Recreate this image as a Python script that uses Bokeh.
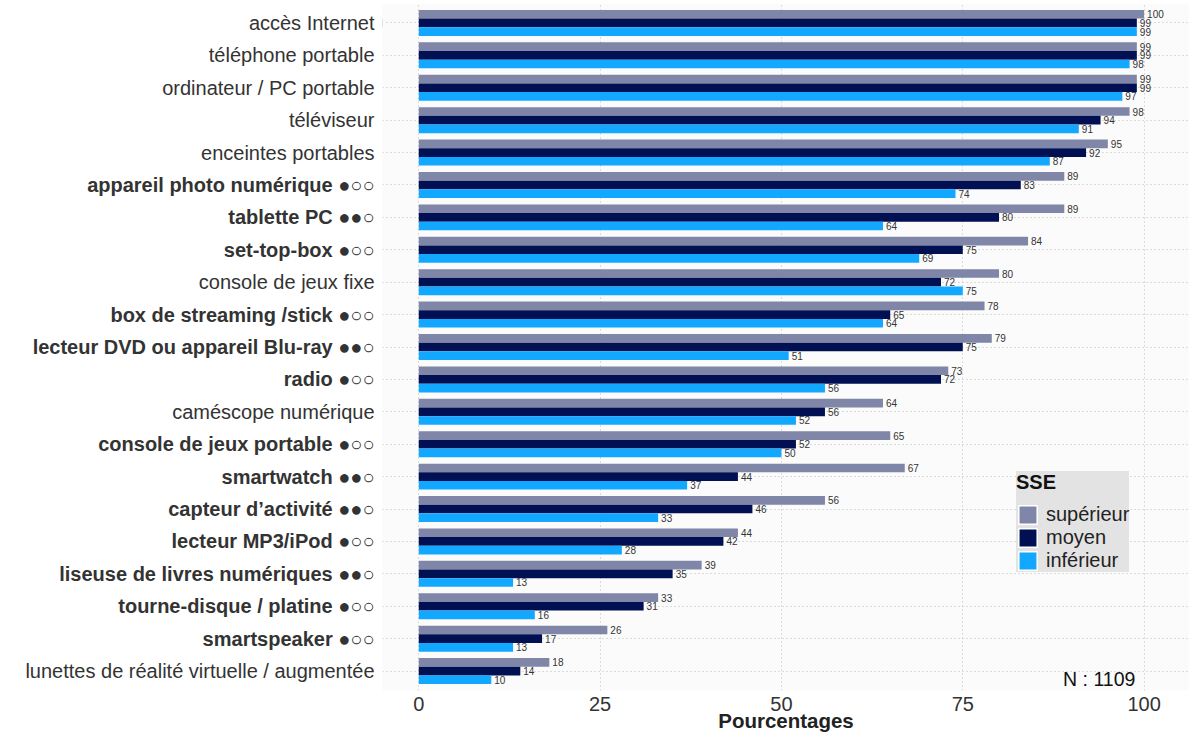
from bokeh.plotting import figure
from bokeh.models import FactorRange, Range1d, ColumnDataSource, Legend, LegendItem, Label, FixedTicker
from bokeh.transform import dodge
from bokeh.layouts import row
from bokeh.embed import file_html
from bokeh.resources import INLINE
from bokeh.core.properties import value

categories = [
    "accès Internet",
    "téléphone portable",
    "ordinateur / PC portable",
    "téléviseur",
    "enceintes portables",
    "appareil photo numérique ●○○",
    "tablette PC ●●○",
    "set-top-box ●○○",
    "console de jeux fixe",
    "box de streaming /stick ●○○",
    "lecteur DVD ou appareil Blu-ray ●●○",
    "radio ●○○",
    "caméscope numérique",
    "console de jeux portable ●○○",
    "smartwatch ●●○",
    "capteur d’activité ●●○",
    "lecteur MP3/iPod ●○○",
    "liseuse de livres numériques ●●○",
    "tourne-disque / platine ●○○",
    "smartspeaker ●○○",
    "lunettes de réalité virtuelle / augmentée",
]
bold = [False, False, False, False, False, True, True, True, False, True, True,
        True, False, True, True, True, True, True, True, True, False]

superieur = [100, 99, 99, 98, 95, 89, 89, 84, 80, 78, 79, 73, 64, 65, 67, 56, 44, 39, 33, 26, 18]
moyen = [99, 99, 99, 94, 92, 83, 80, 75, 72, 65, 75, 72, 56, 52, 44, 46, 42, 35, 31, 17, 14]
inferieur = [99, 98, 97, 91, 87, 74, 64, 69, 75, 64, 51, 56, 52, 50, 37, 33, 28, 13, 16, 13, 10]

groups = ["supérieur", "moyen", "inférieur"]
colors = ["#7F86A8", "#001052", "#12A8FF"]
x_ticks = [0, 25, 50, 75, 100]
n_text = "N : 1109"

FONT_NAME = "Liberation Sans"
FONT = value(FONT_NAME)
BAR_H = 0.267

LEFT_W = 382
FRAME_W = 807
FRAME_H = 687
TOP = 3

y_range = FactorRange(factors=categories[::-1], range_padding=0.1, range_padding_units="absolute")

p = figure(y_range=y_range, x_range=Range1d(-5.0, 106.26),
           frame_width=FRAME_W, frame_height=FRAME_H,
           output_backend="svg", toolbar_location=None,
           y_axis_location=None,
           min_border_left=0, min_border_right=0, min_border_top=TOP, min_border_bottom=0,
           background_fill_color="#FBFBFB", border_fill_color="white",
           outline_line_color=None)

offsets = [BAR_H, 0.0, -BAR_H]
series = [superieur, moyen, inferieur]
for vals, col, off in zip(series, colors, offsets):
    src = ColumnDataSource(dict(cat=categories, val=vals, lab=[str(v) for v in vals]))
    yd = dodge("cat", off, range=p.y_range)
    p.hbar(y=yd, left=0, right="val", height=BAR_H, source=src,
           fill_color=col, line_color=None)
    p.text(x="val", y=yd, text="lab", source=src, x_offset=3,
           text_align="left", text_baseline="middle",
           text_font_size="10px", text_color="#333333", text_font=FONT)

# legend keys: renderers whose single bar lies outside the visible x range,
# so they only show up (with a white border) in the legend
items = []
for g, col in zip(groups, colors):
    ksrc = ColumnDataSource(dict(cat=[categories[0]], l=[-30], r=[-20]))
    r = p.hbar(y="cat", left="l", right="r", height=BAR_H, source=ksrc,
               fill_color=col, line_color="white", line_width=1.5)
    items.append(LegendItem(label=g, renderers=[r]))
legend = Legend(items=items, location=(634, 118), title="SSE",
                title_text_font_style="bold", title_text_font_size="20px",
                title_text_font=FONT_NAME, title_text_color="#111111",
                label_text_font_size="20px", label_text_font=FONT_NAME,
                label_text_color="#222222",
                glyph_width=23, glyph_height=23, label_height=23,
                spacing=0, padding=7, margin=0, label_standoff=7,
                title_standoff=9,
                background_fill_color="#E3E3E3", background_fill_alpha=1,
                border_line_color=None)
p.add_layout(legend)

p.add_layout(Label(x=98.8, y=12, y_units="screen", text=n_text,
                   text_align="right", text_baseline="middle",
                   text_font_size="19.5px", text_font=FONT_NAME, text_color="#111111"))

# grids
p.xgrid.ticker = FixedTicker(ticks=x_ticks)
for g in (p.xgrid, p.ygrid):
    g.grid_line_color = "#BBBBBB"
    g.grid_line_dash = "1 3"
    g.grid_line_width = 1

# x axis
p.xaxis.ticker = FixedTicker(ticks=x_ticks)
p.xaxis.axis_line_color = None
p.xaxis.major_tick_line_color = None
p.xaxis.minor_tick_line_color = None
p.xaxis.major_label_standoff = 0
p.xaxis.major_label_text_font_size = "20px"
p.xaxis.major_label_text_font = FONT_NAME
p.xaxis.major_label_text_color = "#333333"
p.xaxis.axis_label = "Pourcentages"
p.xaxis.axis_label_standoff = -5
p.xaxis.axis_label_text_font_size = "20.5px"
p.xaxis.axis_label_text_font_style = "bold"
p.xaxis.axis_label_text_font = FONT_NAME
p.xaxis.axis_label_text_color = "#222222"

# left figure for the category labels (mixed bold / normal)
lf = figure(y_range=y_range, x_range=Range1d(0, LEFT_W),
            frame_width=LEFT_W, frame_height=FRAME_H,
            x_axis_location=None, y_axis_location=None,
            min_border_left=0, min_border_right=0, min_border_top=TOP, min_border_bottom=0,
            outline_line_color=None, output_backend="svg", toolbar_location=None,
            background_fill_color="white", border_fill_color="white")
lf.grid.visible = False
lsrc = ColumnDataSource(dict(cat=categories,
                             style=["bold" if b else "normal" for b in bold]))
lf.text(x=LEFT_W - 8, y="cat", text="cat", source=lsrc, text_font_style="style",
        text_align="right", text_baseline="middle", text_font_size="20px",
        text_font=FONT, text_color="#333333")

layout = row(lf, p)
open("out.html", "w").write(file_html(layout, INLINE))
